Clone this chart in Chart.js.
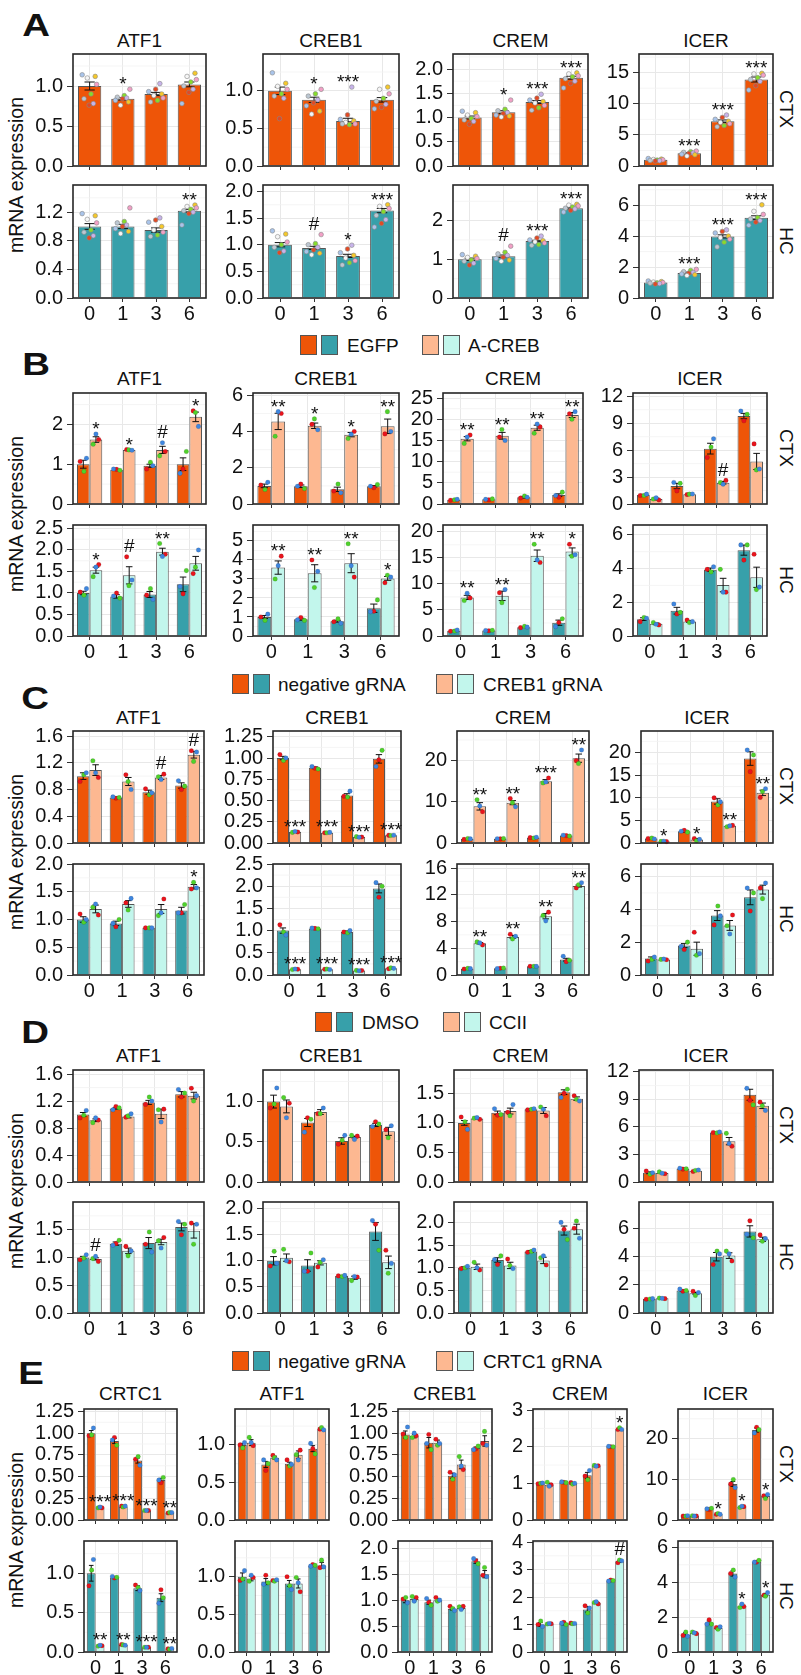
<!DOCTYPE html>
<html>
<head>
<meta charset="utf-8">
<title>mRNA expression of CREB family genes</title>
<script src="https://cdn.jsdelivr.net/npm/chart.js@4.4.1/dist/chart.umd.min.js"></script>
<style>
  html, body { margin: 0; padding: 0; background: #fff; }
  #fig { position: relative; width: 801px; height: 1675px; overflow: hidden;
         font-family: "Liberation Sans", Arial, Helvetica, sans-serif; color: #111; }
  #fig canvas { position: absolute; }
  .txt { position: absolute; line-height: 1; white-space: nowrap; }
  .sw { position: absolute; width: 17px; height: 20px; border: 1px solid #555; box-sizing: border-box; }
</style>
</head>
<body>
<div id="fig"></div>
<script>
// ==========================================================================
// Data
// MEAN/SEM: [series][day], PTS: [series][day][replicate], SIG: label over last series
// ==========================================================================
const DAYS = ['0', '1', '3', '6'];
const GENES_4 = ['ATF1', 'CREB1', 'CREM', 'ICER'];
const GENES_5 = ['CRTC1', 'ATF1', 'CREB1', 'CREM', 'ICER'];
const REGIONS = ['CTX', 'HC'];

const LEGEND_B = ['EGFP', 'A-CREB'];
const LEGEND_C = ['negative gRNA', 'CREB1 gRNA'];
const LEGEND_D = ['DMSO', 'CCII'];
const LEGEND_E = ['negative gRNA', 'CRTC1 gRNA'];

// ---------- A: EGFP time course ----------
const A_YMAX = [[1.40, 1.49, 2.31, 18.0], [1.58, 2.12, 2.92, 7.3]];

const A_CTX_ATF1_Y = ['0.0', '0.5', '1.0'];
const A_CTX_ATF1_MEAN = [[1.00, 0.84, 0.90, 1.02]];
const A_CTX_ATF1_SEM = [[0.05, 0.015, 0.02, 0.03]];
const A_CTX_ATF1_PTS = [[
  [1.14, 1.12, 1.10, 1.02, 0.90, 0.84, 0.78, 0.76],
  [0.96, 0.88, 0.86, 0.85, 0.84, 0.82, 0.80, 0.76],
  [1.03, 0.96, 0.93, 0.90, 0.88, 0.85, 0.82, 0.80],
  [1.16, 1.12, 1.08, 1.05, 1.00, 0.96, 0.92, 0.78]]];
const A_CTX_ATF1_SIG = ['', '*', '', ''];

const A_CTX_CREB1_Y = ['0.0', '0.5', '1.0'];
const A_CTX_CREB1_MEAN = [[1.00, 0.88, 0.60, 0.88]];
const A_CTX_CREB1_SEM = [[0.05, 0.035, 0.035, 0.03]];
const A_CTX_CREB1_PTS = [[
  [1.24, 1.10, 1.06, 1.02, 0.96, 0.93, 0.90, 0.63],
  [1.02, 0.96, 0.93, 0.88, 0.84, 0.80, 0.73, 0.69],
  [1.05, 0.68, 0.62, 0.60, 0.58, 0.56, 0.55, 0.56],
  [1.05, 1.02, 0.96, 0.90, 0.86, 0.82, 0.78, 0.76]]];
const A_CTX_CREB1_SIG = ['', '*', '***', ''];

const A_CTX_CREM_Y = ['0.0', '0.5', '1.0', '1.5', '2.0'];
const A_CTX_CREM_MEAN = [[1.00, 1.11, 1.32, 1.82]];
const A_CTX_CREM_SEM = [[0.03, 0.03, 0.03, 0.03]];
const A_CTX_CREM_PTS = [[
  [1.13, 1.10, 1.05, 1.02, 0.98, 0.95, 0.92, 0.86],
  [1.36, 1.17, 1.14, 1.10, 1.08, 1.05, 1.03, 1.01],
  [1.48, 1.40, 1.36, 1.33, 1.30, 1.25, 1.20, 1.15],
  [1.92, 1.90, 1.86, 1.84, 1.80, 1.75, 1.70, 1.61]]];
const A_CTX_CREM_SIG = ['', '*', '***', '***'];

const A_CTX_ICER_Y = ['0', '5', '10', '15'];
const A_CTX_ICER_MEAN = [[1.0, 2.05, 7.2, 13.9]];
const A_CTX_ICER_SEM = [[0.05, 0.1, 0.2, 0.4]];
const A_CTX_ICER_PTS = [[
  [1.2, 1.1, 1.05, 1.0, 0.95, 0.9, 0.85, 0.8],
  [2.4, 2.3, 2.2, 2.1, 2.0, 1.9, 1.8, 1.6],
  [8.2, 7.8, 7.5, 7.2, 7.0, 6.8, 6.5, 6.3],
  [14.9, 14.8, 14.6, 14.2, 13.9, 13.6, 12.9, 12.2]]];
const A_CTX_ICER_SIG = ['', '***', '***', '***'];

const A_HC_ATF1_Y = ['0.0', '0.4', '0.8', '1.2'];
const A_HC_ATF1_MEAN = [[1.00, 1.00, 0.95, 1.22]];
const A_HC_ATF1_SEM = [[0.04, 0.03, 0.03, 0.02]];
const A_HC_ATF1_PTS = [[
  [1.18, 1.15, 1.10, 1.05, 0.95, 0.92, 0.87, 0.84],
  [1.26, 1.07, 1.05, 1.02, 1.00, 0.97, 0.93, 0.90],
  [1.12, 1.09, 1.06, 1.00, 0.95, 0.92, 0.88, 0.86],
  [1.30, 1.28, 1.26, 1.24, 1.22, 1.20, 1.18, 1.02]]];
const A_HC_ATF1_SIG = ['', '', '', '**'];

const A_HC_CREB1_Y = ['0.0', '0.5', '1.0', '1.5', '2.0'];
const A_HC_CREB1_MEAN = [[1.00, 0.94, 0.79, 1.64]];
const A_HC_CREB1_SEM = [[0.04, 0.03, 0.03, 0.04]];
const A_HC_CREB1_PTS = [[
  [1.26, 1.20, 1.15, 1.05, 1.00, 0.95, 0.88, 0.85],
  [1.19, 1.02, 1.00, 0.95, 0.90, 0.87, 0.84, 0.81],
  [0.99, 0.92, 0.85, 0.80, 0.75, 0.70, 0.66, 0.62],
  [1.75, 1.72, 1.68, 1.62, 1.55, 1.47, 1.40, 1.33]]];
const A_HC_CREB1_SIG = ['', '#', '*', '***'];

const A_HC_CREM_Y = ['0', '1', '2'];
const A_HC_CREM_MEAN = [[1.00, 1.08, 1.47, 2.32]];
const A_HC_CREM_SEM = [[0.03, 0.03, 0.02, 0.02]];
const A_HC_CREM_PTS = [[
  [1.12, 1.08, 1.05, 1.02, 0.98, 0.95, 0.90, 0.85],
  [1.34, 1.18, 1.14, 1.10, 1.05, 1.02, 0.98, 0.95],
  [1.60, 1.55, 1.50, 1.48, 1.45, 1.42, 1.38, 1.36],
  [2.42, 2.40, 2.38, 2.35, 2.32, 2.30, 2.26, 2.22]]];
const A_HC_CREM_SIG = ['', '#', '***', '***'];

const A_HC_ICER_Y = ['0', '2', '4', '6'];
const A_HC_ICER_MEAN = [[1.00, 1.62, 3.98, 5.19]];
const A_HC_ICER_SEM = [[0.03, 0.05, 0.1, 0.12]];
const A_HC_ICER_PTS = [[
  [1.10, 1.06, 1.03, 1.00, 0.98, 0.96, 0.93, 0.90],
  [1.85, 1.78, 1.70, 1.65, 1.60, 1.55, 1.50, 1.45],
  [4.4, 4.3, 4.2, 4.0, 3.9, 3.8, 3.6, 3.3],
  [6.02, 5.6, 5.4, 5.2, 5.1, 5.0, 4.9, 4.7]]];
const A_HC_ICER_SIG = ['', '***', '***', '***'];

// ---------- B: EGFP vs A-CREB (replicates: red, green, blue) ----------
const B_YMAX = [[2.79, 6.13, 26.2, 12.37], [2.58, 5.84, 21.3, 6.58]];

const B_CTX_ATF1_Y = ['0', '1', '2'];
const B_CTX_ATF1_MEAN = [[1.00, 0.86, 0.96, 1.00], [1.62, 1.36, 1.36, 2.19]];
const B_CTX_ATF1_SEM = [[0.10, 0.01, 0.04, 0.16], [0.07, 0.01, 0.09, 0.12]];
const B_CTX_ATF1_PTS = [
  [[1.07, 0.82, 1.15], [0.87, 0.85, 0.88], [0.88, 1.05, 0.96], [0.88, 1.32, 0.77]],
  [[1.62, 1.50, 1.76], [1.37, 1.36, 1.35], [1.32, 1.21, 1.54], [2.34, 2.30, 1.95]]];
const B_CTX_ATF1_SIG = ['*', '*', '#', '*'];

const B_CTX_CREB1_Y = ['0', '2', '4', '6'];
const B_CTX_CREB1_MEAN = [[1.00, 0.98, 0.81, 0.98], [4.56, 4.32, 3.83, 4.29]];
const B_CTX_CREB1_SEM = [[0.10, 0.07, 0.12, 0.04], [0.45, 0.15, 0.12, 0.40]];
const B_CTX_CREB1_PTS = [
  [[1.05, 0.80, 1.20], [1.10, 0.85, 0.98], [0.72, 1.10, 0.62], [0.90, 1.08, 0.98]],
  [[5.00, 3.74, 5.10], [4.40, 4.70, 4.10], [4.00, 3.62, 3.85], [3.87, 5.10, 4.00]]];
const B_CTX_CREB1_SIG = ['**', '*', '*', '**'];

const B_CTX_CREM_Y = ['0', '5', '10', '15', '20', '25'];
const B_CTX_CREM_MEAN = [[1.0, 1.1, 1.6, 2.1], [15.4, 16.1, 18.0, 21.0]];
const B_CTX_CREM_SEM = [[0.1, 0.1, 0.2, 0.3], [0.5, 0.8, 0.6, 0.6]];
const B_CTX_CREM_PTS = [
  [[0.9, 1.0, 1.1], [1.0, 1.2, 1.1], [1.4, 1.9, 1.6], [1.6, 2.8, 2.0]],
  [[16.3, 14.3, 15.8], [15.8, 17.6, 15.0], [18.2, 16.7, 18.9], [21.3, 20.0, 21.8]]];
const B_CTX_CREM_SIG = ['**', '**', '**', '**'];

const B_CTX_ICER_Y = ['0', '3', '6', '9', '12'];
const B_CTX_ICER_MEAN = [[1.0, 2.0, 6.17, 9.8], [0.55, 1.09, 2.37, 4.74]];
const B_CTX_ICER_SEM = [[0.08, 0.3, 0.6, 0.3], [0.1, 0.05, 0.15, 0.9]];
const B_CTX_ICER_PTS = [
  [[0.95, 0.95, 1.1], [1.46, 2.3, 2.4], [5.18, 6.35, 7.26], [9.27, 10.0, 10.36]],
  [[0.45, 0.55, 0.7], [1.05, 1.1, 1.12], [2.63, 2.4, 2.2], [6.7, 3.8, 3.9]]];
const B_CTX_ICER_SIG = ['', '', '#', ''];

const B_HC_ATF1_Y = ['0.0', '0.5', '1.0', '1.5', '2.0', '2.5'];
const B_HC_ATF1_MEAN = [[1.00, 0.92, 0.965, 1.20], [1.53, 1.41, 1.96, 1.69]];
const B_HC_ATF1_SEM = [[0.04, 0.04, 0.07, 0.17], [0.07, 0.2, 0.08, 0.16]];
const B_HC_ATF1_PTS = [
  [[1.02, 0.95, 1.10], [1.00, 0.88, 0.93], [0.95, 1.10, 0.85], [0.98, 1.52, 1.15]],
  [[1.66, 1.38, 1.60], [1.84, 1.17, 1.30], [1.90, 2.15, 1.85], [1.45, 1.60, 2.00]]];
const B_HC_ATF1_SIG = ['*', '#', '**', ''];

const B_HC_CREB1_Y = ['0', '1', '2', '3', '4', '5'];
const B_HC_CREB1_MEAN = [[1.00, 0.88, 0.78, 1.46], [3.60, 3.30, 3.83, 3.03]];
const B_HC_CREB1_SEM = [[0.08, 0.05, 0.05, 0.22], [0.35, 0.45, 0.5, 0.1]];
const B_HC_CREB1_PTS = [
  [[1.00, 0.82, 1.15], [0.97, 0.82, 0.85], [0.75, 0.90, 0.67], [1.30, 1.90, 1.28]],
  [[4.2, 3.0, 3.7], [4.0, 2.55, 3.4], [3.1, 4.85, 3.7], [2.8, 3.2, 3.1]]];
const B_HC_CREB1_SIG = ['**', '**', '**', '*'];

const B_HC_CREM_Y = ['0', '5', '10', '15', '20'];
const B_HC_CREM_MEAN = [[1.0, 1.05, 1.7, 2.55], [7.4, 7.7, 15.4, 16.2]];
const B_HC_CREM_SEM = [[0.1, 0.1, 0.1, 0.5], [0.4, 0.9, 1.1, 0.7]];
const B_HC_CREM_PTS = [
  [[0.9, 0.95, 1.15], [1.0, 1.1, 1.05], [1.6, 1.85, 1.7], [2.6, 3.3, 1.8]],
  [[7.3, 6.8, 8.2], [8.3, 6.4, 8.9], [14.1, 17.6, 14.6], [17.6, 15.3, 15.6]]];
const B_HC_CREM_SIG = ['**', '**', '**', '*'];

const B_HC_ICER_Y = ['0', '2', '4', '6'];
const B_HC_ICER_MEAN = [[1.0, 1.5, 3.93, 5.09], [0.72, 0.86, 3.02, 3.48]];
const B_HC_ICER_SEM = [[0.08, 0.2, 0.1, 0.3], [0.05, 0.06, 0.4, 0.6]];
const B_HC_ICER_PTS = [
  [[0.85, 1.1, 1.05], [1.3, 1.4, 1.9], [3.95, 3.8, 4.1], [4.5, 5.4, 5.4]],
  [[0.65, 0.8, 0.7], [0.95, 0.8, 0.85], [2.6, 3.95, 2.6], [4.85, 2.75, 2.9]]];
const B_HC_ICER_SIG = ['', '', '', ''];

// ---------- C: negative gRNA vs CREB1 gRNA ----------
const C_YMAX = [[1.675, 1.318, 27.2, 24.8], [2.0, 2.5, 16.6, 6.76]];

const C_CTX_ATF1_Y = ['0.0', '0.4', '0.8', '1.2', '1.6'];
const C_CTX_ATF1_MEAN = [[1.00, 0.68, 0.76, 0.86], [1.09, 0.92, 0.98, 1.32]];
const C_CTX_ATF1_SEM = [[0.05, 0.01, 0.03, 0.04], [0.08, 0.06, 0.03, 0.05]];
const C_CTX_ATF1_PTS = [
  [[0.92, 1.02, 1.05], [0.67, 0.68, 0.69], [0.81, 0.72, 0.75], [0.80, 0.85, 0.93]],
  [[0.98, 1.23, 1.05], [1.02, 0.92, 0.80], [1.03, 0.99, 0.95], [1.38, 1.22, 1.36]]];
const C_CTX_ATF1_SIG = ['', '', '#', '#'];

const C_CTX_CREB1_Y = ['0.00', '0.25', '0.50', '0.75', '1.00', '1.25'];
const C_CTX_CREB1_MEAN = [[1.00, 0.885, 0.56, 0.99], [0.13, 0.12, 0.07, 0.09]];
const C_CTX_CREB1_SEM = [[0.02, 0.01, 0.02, 0.05], [0.005, 0.004, 0.004, 0.004]];
const C_CTX_CREB1_PTS = [
  [[1.04, 0.97, 1.00], [0.88, 0.87, 0.90], [0.55, 0.54, 0.61], [0.98, 1.09, 0.90]],
  [[0.13, 0.125, 0.135], [0.12, 0.12, 0.125], [0.07, 0.075, 0.068], [0.09, 0.088, 0.092]]];
const C_CTX_CREB1_SIG = ['***', '***', '***', '***'];

const C_CTX_CREM_Y = ['0', '10', '20'];
const C_CTX_CREM_MEAN = [[1.0, 1.05, 1.3, 1.8], [8.9, 9.8, 15.0, 20.6]];
const C_CTX_CREM_SEM = [[0.05, 0.05, 0.1, 0.1], [0.9, 0.5, 0.4, 1.0]];
const C_CTX_CREM_PTS = [
  [[0.9, 1.1, 1.0], [1.0, 1.1, 1.05], [1.3, 1.2, 1.4], [1.8, 1.7, 1.9]],
  [[7.6, 10.5, 9.0], [10.8, 9.8, 8.8], [15.8, 14.6, 14.8], [20.0, 19.3, 22.6]]];
const C_CTX_CREM_SIG = ['**', '**', '***', '**'];

const C_CTX_ICER_Y = ['0', '5', '10', '15', '20'];
const C_CTX_ICER_MEAN = [[1.0, 2.6, 9.2, 18.7], [0.35, 0.8, 3.8, 11.1]];
const C_CTX_ICER_SEM = [[0.1, 0.2, 0.6, 1.5], [0.05, 0.2, 0.1, 0.6]];
const C_CTX_ICER_PTS = [
  [[1.0, 1.1, 0.9], [2.8, 2.4, 2.6], [10.0, 8.4, 9.1], [15.8, 19.5, 20.6]],
  [[0.3, 0.35, 0.4], [1.0, 0.5, 0.8], [3.9, 3.6, 3.8], [10.1, 11.4, 12.0]]];
const C_CTX_ICER_SIG = ['*', '*', '**', '**'];

const C_HC_ATF1_Y = ['0.0', '0.5', '1.0', '1.5', '2.0'];
const C_HC_ATF1_MEAN = [[1.00, 0.93, 0.85, 1.16], [1.19, 1.28, 1.19, 1.59]];
const C_HC_ATF1_SEM = [[0.05, 0.04, 0.005, 0.06], [0.07, 0.06, 0.08, 0.04]];
const C_HC_ATF1_PTS = [
  [[1.10, 0.95, 1.00], [0.87, 1.00, 0.93], [0.85, 0.85, 0.85], [1.12, 1.27, 1.12]],
  [[1.08, 1.22, 1.28], [1.30, 1.17, 1.38], [1.37, 1.07, 1.12], [1.55, 1.67, 1.57]]];
const C_HC_ATF1_SIG = ['', '', '', '*'];

const C_HC_CREB1_Y = ['0.0', '0.5', '1.0', '1.5', '2.0', '2.5'];
const C_HC_CREB1_MEAN = [[1.00, 1.05, 0.97, 1.95], [0.13, 0.13, 0.10, 0.15]];
const C_HC_CREB1_SEM = [[0.06, 0.01, 0.02, 0.1], [0.005, 0.005, 0.004, 0.006]];
const C_HC_CREB1_PTS = [
  [[1.13, 0.97, 0.90], [1.05, 1.04, 1.06], [0.97, 0.95, 1.00], [1.75, 2.00, 2.08]],
  [[0.13, 0.125, 0.135], [0.13, 0.135, 0.125], [0.10, 0.105, 0.095], [0.14, 0.16, 0.15]]];
const C_HC_CREB1_SIG = ['***', '***', '***', '***'];

const C_HC_CREM_Y = ['0', '4', '8', '12', '16'];
const C_HC_CREM_MEAN = [[0.95, 1.0, 1.3, 2.3], [4.75, 5.7, 8.8, 13.3]];
const C_HC_CREM_SEM = [[0.05, 0.05, 0.05, 0.2], [0.1, 0.2, 0.4, 0.15]];
const C_HC_CREM_PTS = [
  [[0.9, 1.0, 0.95], [1.0, 1.05, 0.95], [1.3, 1.3, 1.3], [2.0, 2.2, 2.8]],
  [[4.5, 4.95, 4.8], [6.1, 5.4, 5.8], [9.4, 8.9, 8.1], [13.0, 13.5, 13.8]]];
const C_HC_CREM_SIG = ['**', '**', '**', '**'];

const C_HC_ICER_Y = ['0', '2', '4', '6'];
const C_HC_ICER_MEAN = [[1.0, 1.79, 3.62, 4.73], [0.95, 1.6, 3.02, 5.2]];
const C_HC_ICER_SEM = [[0.1, 0.12, 0.3, 0.45], [0.02, 0.4, 0.3, 0.27]];
const C_HC_ICER_PTS = [
  [[0.85, 0.95, 1.1], [1.55, 2.0, 1.75], [3.05, 4.2, 3.6], [3.9, 5.0, 5.3]],
  [[0.93, 0.95, 0.97], [2.6, 1.2, 1.3], [3.65, 3.0, 2.5], [5.3, 4.65, 5.6]]];
const C_HC_ICER_SIG = ['', '', '', ''];

// ---------- D: DMSO vs CCII ----------
const D_YMAX = [[1.66, 1.393, 1.895, 12.2], [2.0, 2.125, 2.45, 7.89]];

const D_CTX_ATF1_Y = ['0.0', '0.4', '0.8', '1.2', '1.6'];
const D_CTX_ATF1_MEAN = [[1.00, 1.09, 1.18, 1.30], [0.915, 0.97, 1.01, 1.28]];
const D_CTX_ATF1_SEM = [[0.03, 0.01, 0.03, 0.04], [0.02, 0.02, 0.07, 0.05]];
const D_CTX_ATF1_PTS = [
  [[0.95, 0.99, 1.06], [1.12, 1.10, 1.07], [1.15, 1.26, 1.20], [1.26, 1.32, 1.37]],
  [[0.92, 0.88, 0.95], [0.96, 0.98, 1.01], [1.08, 1.07, 0.89], [1.39, 1.20, 1.28]]];
const D_CTX_ATF1_SIG = ['', '', '', ''];

const D_CTX_CREB1_Y = ['0.0', '0.5', '1.0'];
const D_CTX_CREB1_MEAN = [[1.00, 0.74, 0.51, 0.71], [0.94, 0.87, 0.56, 0.63]];
const D_CTX_CREB1_SEM = [[0.08, 0.05, 0.04, 0.02], [0.08, 0.03, 0.01, 0.05]];
const D_CTX_CREB1_PTS = [
  [[0.92, 0.97, 1.17], [0.80, 0.78, 0.62], [0.47, 0.52, 0.58], [0.75, 0.72, 0.69]],
  [[0.98, 1.05, 0.80], [0.85, 0.85, 0.92], [0.57, 0.58, 0.53], [0.65, 0.55, 0.70]]];
const D_CTX_CREB1_SIG = ['', '', '', ''];

const D_CTX_CREM_Y = ['0.0', '0.5', '1.0', '1.5'];
const D_CTX_CREM_MEAN = [[1.00, 1.17, 1.23, 1.52], [1.075, 1.20, 1.21, 1.41]];
const D_CTX_CREM_SEM = [[0.04, 0.03, 0.01, 0.04], [0.01, 0.05, 0.05, 0.03]];
const D_CTX_CREM_PTS = [
  [[1.10, 1.02, 0.89], [1.13, 1.14, 1.24], [1.22, 1.23, 1.24], [1.50, 1.57, 1.43]],
  [[1.06, 1.08, 1.09], [1.18, 1.12, 1.31], [1.12, 1.27, 1.23], [1.46, 1.40, 1.37]]];
const D_CTX_CREM_SIG = ['', '', '', ''];

const D_CTX_ICER_Y = ['0', '3', '6', '9', '12'];
const D_CTX_ICER_MEAN = [[1.0, 1.45, 5.4, 9.5], [0.97, 1.22, 4.45, 8.3]];
const D_CTX_ICER_SEM = [[0.1, 0.05, 0.05, 0.6], [0.05, 0.05, 0.4, 0.3]];
const D_CTX_ICER_PTS = [
  [[1.2, 0.85, 1.0], [1.4, 1.45, 1.5], [5.4, 5.35, 5.45], [8.9, 8.4, 10.2]],
  [[0.9, 1.1, 0.95], [1.15, 1.25, 1.3], [3.9, 5.3, 4.2], [8.7, 8.3, 7.8]]];
const D_CTX_ICER_SIG = ['', '', '', ''];

const D_HC_ATF1_Y = ['0.0', '0.5', '1.0', '1.5'];
const D_HC_ATF1_MEAN = [[1.00, 1.25, 1.26, 1.55], [0.975, 1.12, 1.28, 1.48]];
const D_HC_ATF1_SEM = [[0.02, 0.03, 0.1, 0.07], [0.02, 0.05, 0.05, 0.13]];
const D_HC_ATF1_PTS = [
  [[0.96, 0.99, 1.05], [1.25, 1.31, 1.22], [1.24, 1.46, 1.10], [1.41, 1.60, 1.65]],
  [[0.93, 0.98, 1.02], [1.20, 1.03, 1.12], [1.36, 1.30, 1.17], [1.62, 1.24, 1.60]]];
const D_HC_ATF1_SIG = ['#', '', '', ''];

const D_HC_CREB1_Y = ['0.0', '0.5', '1.0', '1.5', '2.0'];
const D_HC_CREB1_MEAN = [[1.00, 0.91, 0.71, 1.56], [1.06, 0.96, 0.675, 0.97]];
const D_HC_CREB1_SEM = [[0.08, 0.11, 0.01, 0.17], [0.07, 0.04, 0.03, 0.12]];
const D_HC_CREB1_PTS = [
  [[0.90, 1.18, 0.95], [0.80, 1.15, 0.80], [0.71, 0.70, 0.72], [1.70, 1.20, 1.77]],
  [[0.98, 1.22, 1.00], [0.88, 0.97, 1.02], [0.69, 0.62, 0.70], [1.20, 0.76, 0.95]]];
const D_HC_CREB1_SIG = ['', '', '', ''];

const D_HC_CREM_Y = ['0.0', '0.5', '1.0', '1.5', '2.0'];
const D_HC_CREM_MEAN = [[1.00, 1.17, 1.36, 1.82], [1.02, 1.05, 1.16, 1.85]];
const D_HC_CREM_SEM = [[0.02, 0.05, 0.02, 0.1], [0.06, 0.07, 0.07, 0.11]];
const D_HC_CREM_PTS = [
  [[0.98, 1.00, 1.03], [1.07, 1.26, 1.18], [1.34, 1.36, 1.39], [1.85, 1.62, 2.00]],
  [[0.95, 1.12, 1.00], [1.19, 1.05, 0.98], [1.06, 1.22, 1.26], [1.87, 2.03, 1.65]]];
const D_HC_CREM_SIG = ['', '', '', ''];

const D_HC_ICER_Y = ['0', '2', '4', '6'];
const D_HC_ICER_MEAN = [[1.0, 1.6, 4.0, 5.8], [1.04, 1.4, 4.08, 5.24]];
const D_HC_ICER_SEM = [[0.02, 0.05, 0.3, 0.4], [0.02, 0.06, 0.2, 0.15]];
const D_HC_ICER_PTS = [
  [[0.98, 1.0, 1.02], [1.55, 1.6, 1.7], [3.45, 4.4, 4.2], [6.55, 5.35, 5.6]],
  [[1.02, 1.06, 1.04], [1.55, 1.25, 1.45], [3.7, 4.4, 4.2], [5.55, 5.1, 5.3]]];
const D_HC_ICER_SIG = ['', '', '', ''];

// ---------- E: negative gRNA vs CRTC1 gRNA ----------
const E_YMAX = [[1.278, 1.478, 1.278, 3.03, 27.4], [1.41, 1.474, 2.14, 4.04, 6.36]];

const E_CTX_CRTC1_Y = ['0.00', '0.25', '0.50', '0.75', '1.00', '1.25'];
const E_CTX_CRTC1_MEAN = [[1.00, 0.91, 0.685, 0.46], [0.14, 0.155, 0.11, 0.083]];
const E_CTX_CRTC1_SEM = [[0.03, 0.03, 0.03, 0.02], [0.01, 0.01, 0.005, 0.005]];
const E_CTX_CRTC1_PTS = [
  [[0.97, 0.98, 1.06], [0.95, 0.86, 0.92], [0.70, 0.73, 0.63], [0.43, 0.49, 0.46]],
  [[0.14, 0.14, 0.15], [0.16, 0.15, 0.16], [0.11, 0.11, 0.11], [0.08, 0.085, 0.085]]];
const E_CTX_CRTC1_SIG = ['***', '***', '***', '**'];

const E_CTX_ATF1_Y = ['0.0', '0.5', '1.0'];
const E_CTX_ATF1_MEAN = [[1.00, 0.74, 0.75, 0.95], [1.03, 0.83, 0.87, 1.21]];
const E_CTX_ATF1_SEM = [[0.02, 0.04, 0.02, 0.04], [0.04, 0.02, 0.05, 0.01]];
const E_CTX_ATF1_PTS = [
  [[1.00, 0.96, 1.03], [0.66, 0.75, 0.80], [0.80, 0.72, 0.74], [0.95, 0.88, 1.02]],
  [[0.99, 1.10, 1.03], [0.86, 0.83, 0.80], [0.93, 0.87, 0.80], [1.21, 1.23, 1.20]]];
const E_CTX_ATF1_SIG = ['', '', '', ''];

const E_CTX_CREB1_Y = ['0.00', '0.25', '0.50', '0.75', '1.00', '1.25'];
const E_CTX_CREB1_MEAN = [[0.985, 0.89, 0.51, 0.83], [0.966, 0.89, 0.64, 0.91]];
const E_CTX_CREB1_SEM = [[0.04, 0.06, 0.03, 0.01], [0.02, 0.03, 0.05, 0.06]];
const E_CTX_CREB1_PTS = [
  [[0.99, 0.95, 1.07], [0.985, 0.81, 0.88], [0.55, 0.47, 0.52], [0.82, 0.85, 0.81]],
  [[0.97, 0.95, 1.00], [0.93, 0.86, 0.88], [0.58, 0.73, 0.62], [0.88, 1.02, 0.86]]];
const E_CTX_CREB1_SIG = ['', '', '', ''];

const E_CTX_CREM_Y = ['0', '1', '2', '3'];
const E_CTX_CREM_MEAN = [[1.0, 1.03, 1.22, 2.0], [0.96, 1.0, 1.48, 2.48]];
const E_CTX_CREM_SEM = [[0.01, 0.01, 0.08, 0.01], [0.04, 0.02, 0.01, 0.03]];
const E_CTX_CREM_PTS = [
  [[0.99, 1.0, 1.01], [1.03, 1.02, 1.04], [1.2, 1.1, 1.35], [2.0, 2.0, 2.01]],
  [[0.96, 1.03, 0.92], [1.02, 0.98, 1.0], [1.48, 1.49, 1.47], [2.47, 2.52, 2.47]]];
const E_CTX_CREM_SIG = ['', '', '', '*'];

const E_CTX_ICER_Y = ['0', '10', '20'];
const E_CTX_ICER_MEAN = [[1.0, 2.75, 8.9, 22.2], [1.0, 1.45, 3.25, 5.9]];
const E_CTX_ICER_SEM = [[0.05, 0.15, 0.6, 0.5], [0.05, 0.1, 0.15, 0.3]];
const E_CTX_ICER_PTS = [
  [[1.0, 0.95, 1.05], [2.6, 2.9, 2.75], [8.9, 10.0, 8.0], [22.9, 22.3, 21.5]],
  [[1.0, 1.05, 0.95], [1.4, 1.6, 1.4], [3.3, 3.1, 3.4], [6.0, 5.3, 6.3]]];
const E_CTX_ICER_SIG = ['', '*', '*', '*'];

const E_HC_CRTC1_Y = ['0.0', '0.5', '1.0'];
const E_HC_CRTC1_MEAN = [[1.00, 0.945, 0.81, 0.69], [0.08, 0.09, 0.06, 0.04]];
const E_HC_CRTC1_SEM = [[0.1, 0.01, 0.03, 0.05], [0.005, 0.005, 0.003, 0.005]];
const E_HC_CRTC1_PTS = [
  [[0.84, 1.04, 1.175], [0.94, 0.95, 0.96], [0.85, 0.82, 0.78], [0.79, 0.69, 0.62]],
  [[0.08, 0.075, 0.085], [0.095, 0.09, 0.085], [0.06, 0.06, 0.06], [0.04, 0.035, 0.045]]];
const E_HC_CRTC1_SIG = ['**', '**', '***', '**'];

const E_HC_ATF1_Y = ['0.0', '0.5', '1.0'];
const E_HC_ATF1_MEAN = [[1.00, 0.935, 0.91, 1.15], [0.975, 0.95, 0.91, 1.15]];
const E_HC_ATF1_SEM = [[0.05, 0.04, 0.04, 0.01], [0.03, 0.01, 0.06, 0.04]];
const E_HC_ATF1_PTS = [
  [[0.95, 0.97, 1.08], [1.02, 0.92, 0.90], [1.00, 0.88, 0.83], [1.16, 1.15, 1.14]],
  [[0.99, 0.94, 1.02], [0.95, 0.94, 0.96], [0.80, 0.99, 0.92], [1.12, 1.22, 1.13]]];
const E_HC_ATF1_SIG = ['', '', '', ''];

const E_HC_CREB1_Y = ['0.0', '0.5', '1.0', '1.5', '2.0'];
const E_HC_CREB1_MEAN = [[1.00, 0.96, 0.83, 1.75], [1.02, 1.00, 0.85, 1.50]];
const E_HC_CREB1_SEM = [[0.05, 0.04, 0.02, 0.04], [0.03, 0.03, 0.03, 0.07]];
const E_HC_CREB1_PTS = [
  [[1.02, 1.05, 0.95], [0.96, 0.90, 1.03], [0.88, 0.84, 0.80], [1.76, 1.70, 1.80]],
  [[1.05, 1.07, 0.98], [1.05, 0.98, 1.00], [0.88, 0.87, 0.82], [1.48, 1.63, 1.45]]];
const E_HC_CREB1_SIG = ['', '', '', ''];

const E_HC_CREM_Y = ['0', '1', '2', '3', '4'];
const E_HC_CREM_MEAN = [[1.0, 1.04, 1.55, 2.6], [1.03, 1.04, 1.79, 3.3]];
const E_HC_CREM_SEM = [[0.07, 0.05, 0.1, 0.03], [0.02, 0.02, 0.03, 0.04]];
const E_HC_CREM_PTS = [
  [[1.0, 1.13, 0.93], [1.08, 1.0, 1.05], [1.68, 1.42, 1.6], [2.62, 2.6, 2.58]],
  [[1.03, 1.02, 1.04], [1.05, 1.03, 1.04], [1.75, 1.8, 1.83], [3.25, 3.35, 3.32]]];
const E_HC_CREM_SIG = ['', '', '', '#'];

const E_HC_ICER_Y = ['0', '2', '4', '6'];
const E_HC_ICER_MEAN = [[1.0, 1.68, 4.5, 5.18], [1.1, 1.38, 2.64, 3.28]];
const E_HC_ICER_SEM = [[0.1, 0.1, 0.15, 0.05], [0.05, 0.07, 0.1, 0.08]];
const E_HC_ICER_PTS = [
  [[0.95, 1.15, 0.9], [1.85, 1.6, 1.6], [4.5, 4.7, 4.3], [5.15, 5.25, 5.15]],
  [[1.05, 1.15, 1.1], [1.4, 1.3, 1.45], [2.6, 2.55, 2.75], [3.25, 3.2, 3.4]]];
const E_HC_ICER_SIG = ['', '', '*', '*'];

// panel registry: [section, row, col, mean, sem, points, sig, yTickLabels]
const PANELS = [
  ['A', 0, 0, A_CTX_ATF1_MEAN, A_CTX_ATF1_SEM, A_CTX_ATF1_PTS, A_CTX_ATF1_SIG, A_CTX_ATF1_Y],
  ['A', 0, 1, A_CTX_CREB1_MEAN, A_CTX_CREB1_SEM, A_CTX_CREB1_PTS, A_CTX_CREB1_SIG, A_CTX_CREB1_Y],
  ['A', 0, 2, A_CTX_CREM_MEAN, A_CTX_CREM_SEM, A_CTX_CREM_PTS, A_CTX_CREM_SIG, A_CTX_CREM_Y],
  ['A', 0, 3, A_CTX_ICER_MEAN, A_CTX_ICER_SEM, A_CTX_ICER_PTS, A_CTX_ICER_SIG, A_CTX_ICER_Y],
  ['A', 1, 0, A_HC_ATF1_MEAN, A_HC_ATF1_SEM, A_HC_ATF1_PTS, A_HC_ATF1_SIG, A_HC_ATF1_Y],
  ['A', 1, 1, A_HC_CREB1_MEAN, A_HC_CREB1_SEM, A_HC_CREB1_PTS, A_HC_CREB1_SIG, A_HC_CREB1_Y],
  ['A', 1, 2, A_HC_CREM_MEAN, A_HC_CREM_SEM, A_HC_CREM_PTS, A_HC_CREM_SIG, A_HC_CREM_Y],
  ['A', 1, 3, A_HC_ICER_MEAN, A_HC_ICER_SEM, A_HC_ICER_PTS, A_HC_ICER_SIG, A_HC_ICER_Y],
  ['B', 0, 0, B_CTX_ATF1_MEAN, B_CTX_ATF1_SEM, B_CTX_ATF1_PTS, B_CTX_ATF1_SIG, B_CTX_ATF1_Y],
  ['B', 0, 1, B_CTX_CREB1_MEAN, B_CTX_CREB1_SEM, B_CTX_CREB1_PTS, B_CTX_CREB1_SIG, B_CTX_CREB1_Y],
  ['B', 0, 2, B_CTX_CREM_MEAN, B_CTX_CREM_SEM, B_CTX_CREM_PTS, B_CTX_CREM_SIG, B_CTX_CREM_Y],
  ['B', 0, 3, B_CTX_ICER_MEAN, B_CTX_ICER_SEM, B_CTX_ICER_PTS, B_CTX_ICER_SIG, B_CTX_ICER_Y],
  ['B', 1, 0, B_HC_ATF1_MEAN, B_HC_ATF1_SEM, B_HC_ATF1_PTS, B_HC_ATF1_SIG, B_HC_ATF1_Y],
  ['B', 1, 1, B_HC_CREB1_MEAN, B_HC_CREB1_SEM, B_HC_CREB1_PTS, B_HC_CREB1_SIG, B_HC_CREB1_Y],
  ['B', 1, 2, B_HC_CREM_MEAN, B_HC_CREM_SEM, B_HC_CREM_PTS, B_HC_CREM_SIG, B_HC_CREM_Y],
  ['B', 1, 3, B_HC_ICER_MEAN, B_HC_ICER_SEM, B_HC_ICER_PTS, B_HC_ICER_SIG, B_HC_ICER_Y],
  ['C', 0, 0, C_CTX_ATF1_MEAN, C_CTX_ATF1_SEM, C_CTX_ATF1_PTS, C_CTX_ATF1_SIG, C_CTX_ATF1_Y],
  ['C', 0, 1, C_CTX_CREB1_MEAN, C_CTX_CREB1_SEM, C_CTX_CREB1_PTS, C_CTX_CREB1_SIG, C_CTX_CREB1_Y],
  ['C', 0, 2, C_CTX_CREM_MEAN, C_CTX_CREM_SEM, C_CTX_CREM_PTS, C_CTX_CREM_SIG, C_CTX_CREM_Y],
  ['C', 0, 3, C_CTX_ICER_MEAN, C_CTX_ICER_SEM, C_CTX_ICER_PTS, C_CTX_ICER_SIG, C_CTX_ICER_Y],
  ['C', 1, 0, C_HC_ATF1_MEAN, C_HC_ATF1_SEM, C_HC_ATF1_PTS, C_HC_ATF1_SIG, C_HC_ATF1_Y],
  ['C', 1, 1, C_HC_CREB1_MEAN, C_HC_CREB1_SEM, C_HC_CREB1_PTS, C_HC_CREB1_SIG, C_HC_CREB1_Y],
  ['C', 1, 2, C_HC_CREM_MEAN, C_HC_CREM_SEM, C_HC_CREM_PTS, C_HC_CREM_SIG, C_HC_CREM_Y],
  ['C', 1, 3, C_HC_ICER_MEAN, C_HC_ICER_SEM, C_HC_ICER_PTS, C_HC_ICER_SIG, C_HC_ICER_Y],
  ['D', 0, 0, D_CTX_ATF1_MEAN, D_CTX_ATF1_SEM, D_CTX_ATF1_PTS, D_CTX_ATF1_SIG, D_CTX_ATF1_Y],
  ['D', 0, 1, D_CTX_CREB1_MEAN, D_CTX_CREB1_SEM, D_CTX_CREB1_PTS, D_CTX_CREB1_SIG, D_CTX_CREB1_Y],
  ['D', 0, 2, D_CTX_CREM_MEAN, D_CTX_CREM_SEM, D_CTX_CREM_PTS, D_CTX_CREM_SIG, D_CTX_CREM_Y],
  ['D', 0, 3, D_CTX_ICER_MEAN, D_CTX_ICER_SEM, D_CTX_ICER_PTS, D_CTX_ICER_SIG, D_CTX_ICER_Y],
  ['D', 1, 0, D_HC_ATF1_MEAN, D_HC_ATF1_SEM, D_HC_ATF1_PTS, D_HC_ATF1_SIG, D_HC_ATF1_Y],
  ['D', 1, 1, D_HC_CREB1_MEAN, D_HC_CREB1_SEM, D_HC_CREB1_PTS, D_HC_CREB1_SIG, D_HC_CREB1_Y],
  ['D', 1, 2, D_HC_CREM_MEAN, D_HC_CREM_SEM, D_HC_CREM_PTS, D_HC_CREM_SIG, D_HC_CREM_Y],
  ['D', 1, 3, D_HC_ICER_MEAN, D_HC_ICER_SEM, D_HC_ICER_PTS, D_HC_ICER_SIG, D_HC_ICER_Y],
  ['E', 0, 0, E_CTX_CRTC1_MEAN, E_CTX_CRTC1_SEM, E_CTX_CRTC1_PTS, E_CTX_CRTC1_SIG, E_CTX_CRTC1_Y],
  ['E', 0, 1, E_CTX_ATF1_MEAN, E_CTX_ATF1_SEM, E_CTX_ATF1_PTS, E_CTX_ATF1_SIG, E_CTX_ATF1_Y],
  ['E', 0, 2, E_CTX_CREB1_MEAN, E_CTX_CREB1_SEM, E_CTX_CREB1_PTS, E_CTX_CREB1_SIG, E_CTX_CREB1_Y],
  ['E', 0, 3, E_CTX_CREM_MEAN, E_CTX_CREM_SEM, E_CTX_CREM_PTS, E_CTX_CREM_SIG, E_CTX_CREM_Y],
  ['E', 0, 4, E_CTX_ICER_MEAN, E_CTX_ICER_SEM, E_CTX_ICER_PTS, E_CTX_ICER_SIG, E_CTX_ICER_Y],
  ['E', 1, 0, E_HC_CRTC1_MEAN, E_HC_CRTC1_SEM, E_HC_CRTC1_PTS, E_HC_CRTC1_SIG, E_HC_CRTC1_Y],
  ['E', 1, 1, E_HC_ATF1_MEAN, E_HC_ATF1_SEM, E_HC_ATF1_PTS, E_HC_ATF1_SIG, E_HC_ATF1_Y],
  ['E', 1, 2, E_HC_CREB1_MEAN, E_HC_CREB1_SEM, E_HC_CREB1_PTS, E_HC_CREB1_SIG, E_HC_CREB1_Y],
  ['E', 1, 3, E_HC_CREM_MEAN, E_HC_CREM_SEM, E_HC_CREM_PTS, E_HC_CREM_SIG, E_HC_CREM_Y],
  ['E', 1, 4, E_HC_ICER_MEAN, E_HC_ICER_SEM, E_HC_ICER_PTS, E_HC_ICER_SIG, E_HC_ICER_Y],
];
const YMAX = { A: A_YMAX, B: B_YMAX, C: C_YMAX, D: D_YMAX, E: E_YMAX };

// ==========================================================================
// Layout and style
// ==========================================================================
const FONT = '"Liberation Sans", Arial, Helvetica, sans-serif';
const BAR_COLORS = [['#ee5508', '#fdb891'], ['#37a0aa', '#c2f6ec']]; // [region][series]
const PT_COLORS = ['#e8141c', '#4fd12c', '#3f86de'];
const A_PT_COLORS = ['#a9c4ea', '#f2a0c6', '#c7b3ea', '#f5c82a', '#86dc2c', '#e24a24', '#f6f6f6', '#bcc7d2'];
const JIT3 = [[-0.25, 0.05, 0.25], [0.22, -0.22, 0.0], [0.0, 0.26, -0.24], [-0.2, -0.02, 0.22]];
const JIT8 = [-0.32, 0.24, -0.1, 0.3, 0.06, -0.24, 0.16, -0.02];

// plot boxes (left/right, top/bottom) in page pixels
const GEO = {
  A: { titleY: 40, rows: [[52, 166], [183, 298]], cols: [[73, 206], [263, 399], [453, 588], [639, 773]], letter: [36, 25] },
  B: { titleY: 378, rows: [[391, 504], [523, 636]], cols: [[73, 206], [253, 399], [443, 583], [633, 767]], letter: [36, 364] },
  C: { titleY: 717, rows: [[729, 843], [862, 975]], cols: [[73, 204], [273, 401], [457, 589], [641, 773]], letter: [35, 698] },
  D: { titleY: 1055, rows: [[1068, 1182], [1200, 1313]], cols: [[73, 204], [263, 399], [454, 587], [639, 773]], letter: [35, 1032] },
  E: { titleY: 1393, rows: [[1407, 1520], [1539, 1652]], cols: [[84, 177], [235, 329], [398, 492], [533, 627], [678, 773]], letter: [31, 1373] },
};
// legend: centre y, [first swatch x, label x] for control and treatment
const LEGENDS = [
  [LEGEND_B, 345, [300, 347], [422, 468]],
  [LEGEND_C, 684, [232, 278], [436, 483]],
  [LEGEND_D, 1022, [315, 362], [443, 489]],
  [LEGEND_E, 1361, [232, 278], [436, 483]],
];
const YAXW = 64, PADT = 14, PADR = 4, XAXH = 30;

const fig = document.getElementById('fig');
Chart.defaults.font.family = FONT;

function addText(txt, x, y, size, extra) {
  const d = document.createElement('div');
  d.className = 'txt';
  d.textContent = txt;
  d.style.left = x + 'px';
  d.style.top = y + 'px';
  d.style.fontSize = size + 'px';
  d.style.transform = 'translate(-50%, -50%)' + (extra || '');
  fig.appendChild(d);
  return d;
}

// error bars, replicate points, significance marks, minor grid and panel border
const panelDeco = {
  id: 'panelDeco',
  beforeDatasetsDraw(chart, args, opt) {
    const { ctx, chartArea: a, scales: { y } } = chart;
    const v = opt.ticks;
    const step = v[1] - v[0];
    ctx.save();
    ctx.strokeStyle = '#f2f2f2';
    ctx.lineWidth = 0.8;
    for (let m = v[0] + step / 2; m < y.max; m += step) {
      const py = y.getPixelForValue(m);
      ctx.beginPath(); ctx.moveTo(a.left, py); ctx.lineTo(a.right, py); ctx.stroke();
    }
    ctx.restore();
  },
  afterDatasetsDraw(chart, args, opt) {
    const { ctx, scales: { y } } = chart;
    const nSer = chart.data.datasets.length;
    ctx.save();
    chart.data.datasets.forEach((ds, s) => {
      const meta = chart.getDatasetMeta(s);
      meta.data.forEach((bar, i) => {
        const x = bar.x, w = bar.width;
        const m = ds.data[i], se = opt.sem[s][i];
        const yTop = y.getPixelForValue(m + se);
        const yBot = y.getPixelForValue(Math.max(0, m - se));
        const cw = w * (nSer === 1 ? 0.22 : 0.26);
        ctx.strokeStyle = '#111';
        ctx.lineWidth = 1;
        ctx.beginPath();
        ctx.moveTo(x, yTop); ctx.lineTo(x, yBot);
        ctx.moveTo(x - cw, yTop); ctx.lineTo(x + cw, yTop);
        ctx.moveTo(x - cw, yBot); ctx.lineTo(x + cw, yBot);
        ctx.stroke();

        let top = yTop;
        const pts = opt.pts[s][i];
        pts.forEach((v, k) => {
          let jx, col;
          if (pts.length === 3) {
            jx = JIT3[(i * 2 + s) % 4][k];
            col = PT_COLORS[k];
          } else {
            jx = JIT8[(k + i * 3) % 8];
            col = A_PT_COLORS[(k * 3 + i) % 8];
          }
          const px = x + jx * w, py = y.getPixelForValue(v);
          top = Math.min(top, py - 2.4);
          ctx.beginPath();
          ctx.arc(px, py, 2.3, 0, Math.PI * 2);
          ctx.fillStyle = col;
          ctx.fill();
          ctx.lineWidth = 0.6;
          ctx.strokeStyle = pts.length === 3 ? 'rgba(0,0,0,0.18)' : '#888';
          ctx.stroke();
        });

        const lab = s === nSer - 1 ? opt.sig[i] : '';
        if (lab) {
          ctx.font = '19px ' + FONT;
          ctx.fillStyle = '#111';
          ctx.textAlign = 'center';
          ctx.textBaseline = 'alphabetic';
          const tm = ctx.measureText(lab);
          ctx.fillText(lab, x, top - 2.5 - tm.actualBoundingBoxDescent);
        }
      });
    });
    ctx.restore();
  },
  afterDraw(chart) {
    const { ctx, chartArea: a } = chart;
    ctx.save();
    ctx.strokeStyle = '#262626';
    ctx.lineWidth = 1.6;
    ctx.strokeRect(a.left, a.top, a.right - a.left, a.bottom - a.top);
    ctx.restore();
  }
};

function makePanel(sec, row, col, mean, sem, pts, sig, yLabels) {
  const g = GEO[sec];
  const [L, R] = g.cols[col];
  const [T, B] = g.rows[row];
  const W = R - L + YAXW + PADR, H = B - T + PADT + XAXH;
  const cv = document.createElement('canvas');
  cv.width = W; cv.height = H;
  cv.style.left = (L - YAXW) + 'px';
  cv.style.top = (T - PADT) + 'px';
  cv.style.width = W + 'px';
  cv.style.height = H + 'px';
  fig.appendChild(cv);

  const single = mean.length === 1;
  const yVals = yLabels.map(Number);
  new Chart(cv, {
    type: 'bar',
    data: {
      labels: DAYS,
      datasets: mean.map((m, s) => ({
        data: m,
        backgroundColor: BAR_COLORS[row][s],
        borderColor: '#555',
        borderWidth: 1,
        barPercentage: single ? 0.7 : 1.0,
        categoryPercentage: single ? 1.0 : 0.76,
      }))
    },
    options: {
      responsive: false,
      animation: false,
      events: [],
      layout: { padding: { top: PADT, right: PADR, left: 0, bottom: 0 } },
      plugins: {
        legend: { display: false },
        tooltip: { enabled: false },
        panelDeco: { sem, pts, sig, ticks: yVals }
      },
      scales: {
        x: {
          grid: { offset: false, color: '#e8e8e8', lineWidth: 1, tickLength: 4, tickColor: '#333' },
          border: { display: false },
          ticks: { color: row === 1 ? '#111' : 'rgba(0,0,0,0)', font: { size: 20 }, padding: 0,
                   maxRotation: 0, autoSkip: false },
          afterFit: (s) => { s.height = XAXH; }
        },
        y: {
          min: 0,
          max: YMAX[sec][row][col],
          grid: { color: '#e8e8e8', lineWidth: 1, tickLength: 6, tickColor: '#333' },
          border: { display: false },
          ticks: { color: '#111', font: { size: 20 }, padding: 4, autoSkip: false,
                   callback: (v) => yLabels[yVals.findIndex(t => Math.abs(t - v) < 1e-9)] },
          afterBuildTicks: (ax) => { ax.ticks = yVals.map(v => ({ value: v })); },
          afterFit: (s) => { s.width = YAXW; }
        }
      }
    },
    plugins: [panelDeco]
  });
}

// ---- section decorations: letters, gene titles, region strips, y titles ----
Object.keys(GEO).forEach(sec => {
  const g = GEO[sec];
  const genes = sec === 'E' ? GENES_5 : GENES_4;
  addText(sec, g.letter[0], g.letter[1], 32, ' scaleX(1.2)').style.fontWeight = 'bold';
  g.cols.forEach((c, j) => addText(genes[j], (c[0] + c[1]) / 2, g.titleY, 19));
  g.rows.forEach((r, k) => addText(REGIONS[k], 786, (r[0] + r[1]) / 2, 19, ' rotate(90deg)'));
  addText('mRNA expression', 17, (g.rows[0][0] + g.rows[1][1]) / 2, 19.5, ' rotate(-90deg)');
});

LEGENDS.forEach(([labels, cy, ctrl, trt]) => {
  [ctrl, trt].forEach((item, s) => {
    [0, 1].forEach(k => {
      const sw = document.createElement('div');
      sw.className = 'sw';
      sw.style.left = (item[0] + k * 21) + 'px';
      sw.style.top = (cy - 10) + 'px';
      sw.style.background = BAR_COLORS[k][s];
      fig.appendChild(sw);
    });
    const t = addText(labels[s], item[1], cy, 19);
    t.style.transform = 'translate(0, -50%)';
  });
});

PANELS.forEach(p => makePanel(...p));
</script>
</body>
</html>
